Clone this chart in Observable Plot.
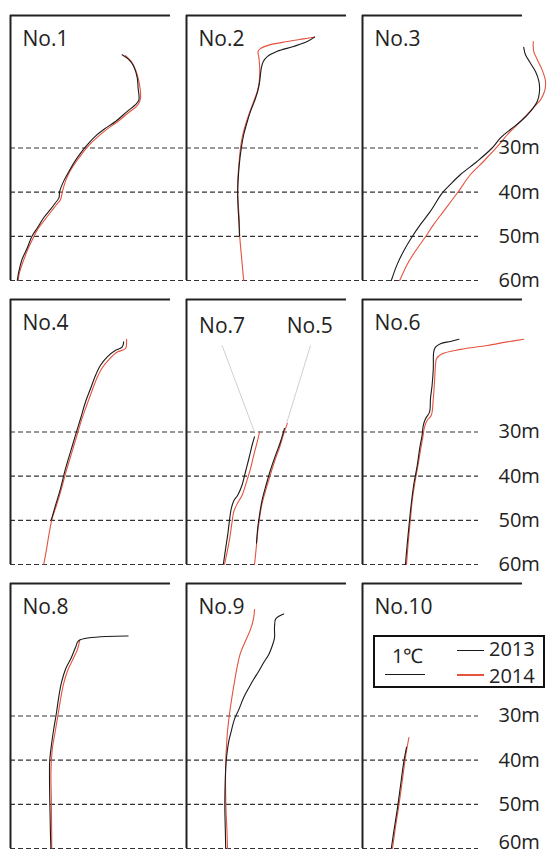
<!DOCTYPE html>
<html>
<head>
<meta charset="utf-8">
<script src="https://cdn.jsdelivr.net/npm/d3@7"></script>
<script src="https://cdn.jsdelivr.net/npm/@observablehq/plot@0.6"></script>
<style>
  body { margin: 0; background: #fff; }
  #wrap { position: relative; width: 547px; height: 854px; font-family: "Open Sans", sans-serif; color: #222; }
  #legend { position: absolute; left: 373px; top: 635px; width: 168px; height: 49px; border: 2px solid #111; background: #fff; }
  #legend .t { position: absolute; font-size: 20px; line-height: 20px; height: 20px; }
  #legend .ln { position: absolute; height: 0; }
</style>
</head>
<body>
<div id="wrap">
  <div id="chart"></div>
  <div id="legend">
    <div class="t" style="left:17px; top:9px;">1℃</div>
    <div class="ln" style="left:10px; top:37px; width:40px; border-top:1.5px solid #1a1a1a;"></div>
    <div class="ln" style="left:82px; top:13px; width:27px; border-top:1.5px solid #1a1a1a;"></div>
    <div class="t" style="left:114px; top:2px;">2013</div>
    <div class="ln" style="left:82px; top:37px; width:27px; border-top:2px solid #e5533d;"></div>
    <div class="t" style="left:114px; top:29px;">2014</div>
  </div>
</div>
<script>
// ---- data: [relative temperature (°C from panel left), depth (m)] ----
const no1_2013 = [[2.79,8.9],[2.96,10.0],[3.08,11.5],[3.17,14.2],[3.19,16.4],[3.21,19.1],[3.125,20.2],[2.92,21.7],[2.625,24.0],[2.33,25.8],[2.125,27.3],[1.93,29.2],[1.79,30.7],[1.625,32.8],[1.46,35.3],[1.33,37.5],[1.23,39.8],[1.21,41.3],[1.125,42.4],[1.0,43.9],[0.83,45.8],[0.67,48.1],[0.54,49.9],[0.42,52.6],[0.29,55.2],[0.21,57.9],[0.17,60.0]];
const no1_2014 = [[2.875,9.1],[3.02,10.4],[3.125,12.3],[3.21,14.9],[3.25,18.7],[3.18,20.3],[2.96,21.9],[2.67,24.1],[2.375,26.0],[1.96,29.4],[1.65,33.0],[1.48,35.4],[1.375,37.5],[1.3,39.8],[1.25,41.7],[1.15,42.8],[1.04,44.1],[0.86,46.2],[0.68,48.4],[0.57,50.3],[0.43,53.0],[0.32,55.6],[0.23,58.0],[0.19,60.0]];
const no2_2013 = [[3.2,4.9],[3.02,5.9],[2.68,7.0],[2.27,8.1],[2.02,9.3],[1.92,10.4],[1.87,11.9],[1.83,14.9],[1.78,17.2],[1.7,19.4],[1.6,21.7],[1.52,24.0],[1.43,27.0],[1.37,30.0],[1.32,33.7],[1.29,37.5],[1.28,40.2],[1.29,43.5],[1.31,46.6],[1.325,49.9]];
const no2_2014 = [[3.2,4.9],[2.93,5.3],[2.52,5.9],[2.1,6.6],[1.85,7.5],[1.79,8.1],[1.81,9.6],[1.83,11.9],[1.82,14.9],[1.77,17.2],[1.68,19.4],[1.56,22.4],[1.475,24.7],[1.39,27.7],[1.35,30.0],[1.31,33.7],[1.28,37.5],[1.28,40.5],[1.3,43.5],[1.32,46.6],[1.33,49.9],[1.37,54.1],[1.4,57.1],[1.43,60.0]];
const no3_2013 = [[4.03,7.2],[4.075,8.9],[4.2,10.8],[4.325,12.7],[4.41,14.9],[4.425,17.2],[4.37,19.4],[4.2,21.7],[3.95,24.0],[3.7,25.8],[3.45,27.7],[3.24,30.0],[2.87,33.0],[2.45,36.0],[2.16,38.6],[1.99,40.2],[1.7,44.3],[1.45,47.3],[1.24,50.1],[1.03,53.3],[0.87,56.3],[0.72,60.0]];
const no3_2014 = [[4.27,5.9],[4.28,8.1],[4.37,10.0],[4.49,12.3],[4.575,14.9],[4.55,17.2],[4.45,19.1],[4.28,20.8],[4.12,22.4],[3.87,24.7],[3.62,27.0],[3.38,29.6],[3.03,33.0],[2.7,36.0],[2.37,40.2],[2.03,44.3],[1.78,47.3],[1.575,50.1],[1.325,53.3],[1.12,56.3],[0.93,60.0]];
const no4_2013 = [[2.83,9.6],[2.79,10.8],[2.625,11.5],[2.42,13.0],[2.25,14.9],[2.125,17.2],[2.0,20.2],[1.875,23.2],[1.75,27.0],[1.625,30.7],[1.5,34.5],[1.375,38.3],[1.25,42.8],[1.125,46.6],[1.02,49.9]];
const no4_2014 = [[2.9,9.0],[2.875,11.1],[2.67,11.9],[2.46,13.6],[2.29,15.5],[2.17,17.6],[2.04,20.6],[1.92,23.6],[1.775,27.3],[1.65,31.1],[1.525,34.9],[1.4,38.6],[1.275,42.8],[1.15,46.6],[1.04,49.6],[0.96,53.3],[0.89,57.1],[0.83,60.0]];
const no5_2013 = [[2.45,29.2],[2.35,32.2],[2.225,35.3],[2.1,38.6],[1.99,42.0],[1.89,45.4],[1.825,48.8],[1.78,51.8],[1.75,55.2]];
const no5_2014 = [[2.52,28.1],[2.43,30.4],[2.33,33.4],[2.21,36.4],[2.08,40.2],[1.97,43.5],[1.88,46.6],[1.825,49.6],[1.78,52.6],[1.75,55.6],[1.725,57.9],[1.7,60.0]];
const no6_2013 = [[2.41,9.0],[2.2,9.5],[1.95,10.0],[1.825,10.8],[1.78,11.9],[1.77,15.7],[1.74,19.4],[1.7,22.4],[1.675,25.5],[1.575,27.0],[1.52,28.5],[1.49,30.7],[1.43,33.7],[1.37,37.5],[1.28,42.0],[1.225,45.8],[1.18,49.6],[1.14,53.3],[1.1,57.1],[1.075,60.0]];
const no6_2014 = [[4.03,9.0],[3.62,9.6],[3.12,10.4],[2.45,11.3],[1.99,12.3],[1.85,13.4],[1.825,14.9],[1.8,18.7],[1.77,22.4],[1.72,26.2],[1.62,27.3],[1.55,28.9],[1.51,31.1],[1.45,34.1],[1.38,37.9],[1.3,42.0],[1.24,45.8],[1.2,49.6],[1.16,53.3],[1.125,57.1],[1.1,60.0]];
const no7_2013 = [[1.7,31.1],[1.64,33.0],[1.56,36.0],[1.475,39.0],[1.39,42.0],[1.28,44.3],[1.18,45.6],[1.12,47.3],[1.08,49.6],[1.04,52.6],[0.98,56.3],[0.92,60.0]];
const no7_2014 = [[1.825,30.0],[1.77,32.2],[1.68,35.3],[1.6,38.3],[1.5,41.3],[1.39,44.3],[1.27,46.2],[1.18,48.1],[1.14,50.3],[1.08,54.1],[1.0,57.9],[0.95,60.0]];
const no8_2013 = [[2.94,11.9],[1.71,12.9],[1.625,14.5],[1.52,16.8],[1.375,19.4],[1.275,22.4],[1.21,25.5],[1.15,29.2],[1.08,33.0],[1.02,36.8],[0.98,40.2],[0.975,43.5],[0.98,48.1],[0.99,52.6],[1.0,57.1],[1.01,60.0]];
const no8_2014 = [[1.73,12.9],[1.675,14.9],[1.57,17.0],[1.425,19.8],[1.325,22.8],[1.26,25.8],[1.19,29.6],[1.12,33.4],[1.05,37.1],[1.02,40.5],[1.01,43.5],[1.02,48.1],[1.025,52.6],[1.03,57.1],[1.03,60.0]];
const no9_2013 = [[2.43,6.9],[2.31,7.4],[2.225,8.1],[2.2,10.0],[2.2,12.3],[2.14,14.2],[2.06,16.0],[1.93,17.9],[1.81,19.8],[1.68,21.7],[1.56,23.6],[1.43,25.8],[1.31,28.5],[1.2,30.7],[1.12,33.4],[1.06,35.6],[1.02,37.9],[0.99,40.5],[0.97,44.3],[0.96,48.1],[0.96,51.8],[0.97,55.6],[0.98,60.0]];
const no9_2014 = [[1.7,5.9],[1.68,7.8],[1.6,10.4],[1.475,13.0],[1.35,15.7],[1.27,18.7],[1.21,21.7],[1.14,25.5],[1.08,29.2],[1.03,33.0],[1.0,36.8],[0.98,40.5],[0.975,44.3],[0.98,48.1],[0.99,51.8],[1.01,55.6],[1.025,60.0]];
const no10_2013 = [[1.1,37.1],[1.03,40.5],[0.95,45.8],[0.87,51.1],[0.78,56.3],[0.72,60.0]];
const no10_2014 = [[1.16,34.9],[1.08,39.0],[1.0,44.3],[0.92,49.6],[0.83,54.8],[0.75,60.0]];

// station -> panel (column, row)
const stations = [
  {name: "No.1", col: 0, row: 0, d2013: no1_2013, d2014: no1_2014},
  {name: "No.2", col: 1, row: 0, d2013: no2_2013, d2014: no2_2014},
  {name: "No.3", col: 2, row: 0, d2013: no3_2013, d2014: no3_2014},
  {name: "No.4", col: 0, row: 1, d2013: no4_2013, d2014: no4_2014},
  {name: "No.5", col: 1, row: 1, d2013: no5_2013, d2014: no5_2014},
  {name: "No.6", col: 2, row: 1, d2013: no6_2013, d2014: no6_2014},
  {name: "No.7", col: 1, row: 1, d2013: no7_2013, d2014: no7_2014},
  {name: "No.8", col: 0, row: 2, d2013: no8_2013, d2014: no8_2014},
  {name: "No.9", col: 1, row: 2, d2013: no9_2013, d2014: no9_2014},
  {name: "No.10", col: 2, row: 2, d2013: no10_2013, d2014: no10_2014}
];
const years = ["2013", "2014"];
const yearColors = ["#1a1a1a", "#e5533d"];
const depthTicks = [30, 40, 50, 60];
const depthLabels = ["30m", "40m", "50m", "60m"];
const rows = [0, 1, 2];
const cols = [0, 1, 2];
// shared panel (No.5 & No.7) label annotations
const sharedLabels = [
  {name: "No.7", col: 1, row: 1, x: 0.89, lx: 0.89, ly: 10.4, px: 1.7, py: 30.0},
  {name: "No.5", col: 1, row: 1, x: 3.08, lx: 3.1, ly: 10.4, px: 2.5, py: 28.1}
];

// ---- tables ----
const profiles = stations.flatMap(s => years.flatMap(y =>
  s["d" + y].map(([t, depth]) => ({station: s.name, year: y, col: s.col, row: s.row, t, depth}))));
const ruleSpan = [4.4, 4.4, 2.9];
const grid = rows.flatMap(r => cols.flatMap(c => depthTicks.map(d => ({row: r, col: c, depth: d, x2: ruleSpan[c]}))));
const tickText = rows.flatMap(r => depthTicks.map((d, i) => ({row: r, col: 2, depth: d, label: depthLabels[i]})));
const lastRow = rows[rows.length - 1], lastDepth = depthTicks[depthTicks.length - 1];
const isBottom = d => d.row === lastRow && d.depth === lastDepth;
const single = stations.filter(s => s.name !== "No.5" && s.name !== "No.7");

const chart = Plot.plot({
  width: 547,
  height: 854,
  marginLeft: 10,
  marginRight: 25,
  marginTop: 14,
  marginBottom: 5,
  style: {fontFamily: "Open Sans, sans-serif", background: "#fff", overflow: "visible"},
  fx: {domain: cols, axis: null, paddingInner: 16 / 176, paddingOuter: 0},
  fy: {domain: rows, axis: null, paddingInner: 19.5 / 285, paddingOuter: 0},
  x: {domain: [0, 4], axis: null},
  y: {domain: [0, 60], reverse: true, axis: null},
  color: {domain: years, range: yearColors},
  marks: [
    Plot.ruleY(grid, {y: "depth", x1: 0, x2: "x2", fx: "col", fy: "row", stroke: "#333", strokeWidth: 1.2, strokeDasharray: "5,3"}),
    Plot.ruleX([0], {y1: 0, y2: 60, stroke: "#222", strokeWidth: 2}),
    Plot.ruleY([0], {x1: 0, x2: 4, stroke: "#222", strokeWidth: 2}),
    Plot.link(sharedLabels, {x1: "lx", y1: "ly", x2: "px", y2: "py", fx: "col", fy: "row", stroke: "#d0d0d0", strokeWidth: 1}),
    Plot.line(profiles.filter(d => d.year === "2014"), {x: "t", y: "depth", z: "station", stroke: "year", fx: "col", fy: "row", curve: "catmull-rom", strokeWidth: 1.1}),
    Plot.line(profiles.filter(d => d.year === "2013"), {x: "t", y: "depth", z: "station", stroke: "year", fx: "col", fy: "row", curve: "catmull-rom", strokeWidth: 1.1}),
    Plot.text(single, {text: "name", fx: "col", fy: "row", frameAnchor: "top-left", dx: 12, dy: 16, lineAnchor: "top", fontSize: 21, fill: "#222"}),
    Plot.text(sharedLabels, {text: "name", x: "x", fx: "col", fy: "row", frameAnchor: "top", dy: 19, lineAnchor: "top", textAnchor: "middle", fontSize: 21, fill: "#222"}),
    Plot.text(tickText.filter(d => !isBottom(d)), {text: "label", x: 3.4, y: "depth", fx: "col", fy: "row", textAnchor: "start", lineAnchor: "middle", fontSize: 20, fill: "#222"}),
    Plot.text(tickText.filter(isBottom), {text: "label", x: 3.4, y: "depth", fx: "col", fy: "row", dy: -6, textAnchor: "start", lineAnchor: "middle", fontSize: 20, fill: "#222"})
  ]
});
document.getElementById("chart").appendChild(chart);
</script>
</body>
</html>
